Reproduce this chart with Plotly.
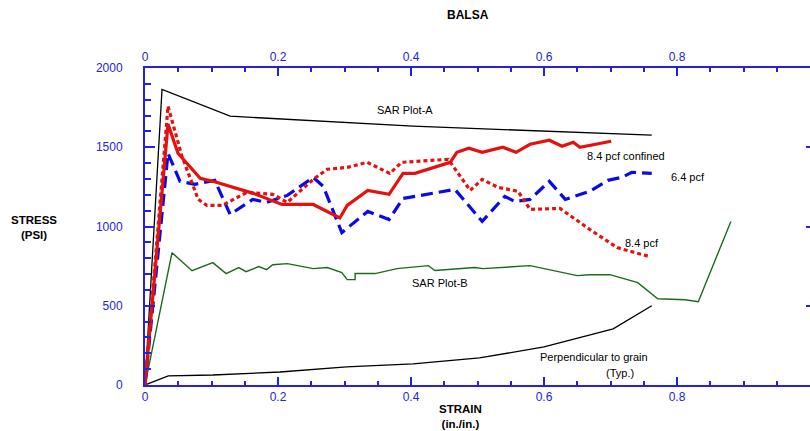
import plotly.graph_objects as go

# ---- data (strain in./in., stress psi) ----
sar_a_x = [0, 0.0256, 0.128, 0.403, 0.762]
sar_a_y = [0, 1865, 1696, 1633, 1576]

perp_x = [0, 0.035, 0.102, 0.203, 0.303, 0.403, 0.503, 0.600, 0.704, 0.762]
perp_y = [0, 57, 63, 82, 114, 133, 171, 240, 354, 500]

sar_b_x = [0, 0.0406, 0.0707, 0.102, 0.122, 0.141, 0.152, 0.171, 0.183, 0.192, 0.214,
           0.253, 0.274, 0.296, 0.304, 0.316, 0.316, 0.346, 0.379, 0.426, 0.436, 0.496,
           0.508, 0.579, 0.650, 0.669, 0.699, 0.741, 0.771, 0.812, 0.832, 0.881]
sar_b_y = [0, 835, 721, 772, 703, 741, 715, 747, 728, 759, 766,
           734, 741, 709, 665, 665, 703, 703, 734, 753, 722, 741,
           734, 753, 690, 696, 696, 646, 544, 538, 525, 1032]

conf_x = [0, 0.0346, 0.0496, 0.083, 0.102, 0.163, 0.206, 0.253, 0.293, 0.304, 0.335,
          0.367, 0.388, 0.406, 0.459, 0.469, 0.487, 0.507, 0.538, 0.558, 0.579, 0.608,
          0.627, 0.644, 0.654, 0.701]
conf_y = [0, 1646, 1462, 1304, 1285, 1209, 1139, 1139, 1054, 1133, 1228,
          1203, 1335, 1335, 1405, 1468, 1494, 1468, 1500, 1468, 1519, 1544,
          1506, 1532, 1500, 1538]

p84_x = [0, 0.0346, 0.0556, 0.080, 0.093, 0.116, 0.153, 0.192, 0.214, 0.253, 0.274,
         0.304, 0.334, 0.368, 0.386, 0.456, 0.489, 0.507, 0.531, 0.549, 0.561, 0.579,
         0.624, 0.669, 0.710, 0.726, 0.759]
p84_y = [0, 1759, 1443, 1171, 1133, 1133, 1215, 1203, 1152, 1297, 1361,
         1373, 1405, 1335, 1405, 1424, 1228, 1297, 1247, 1234, 1222, 1108,
         1114, 981, 867, 848, 810]

p64_x = [0, 0.0346, 0.0526, 0.075, 0.105, 0.128, 0.162, 0.183, 0.214, 0.253, 0.268,
         0.296, 0.335, 0.367, 0.388, 0.466, 0.507, 0.541, 0.556, 0.579, 0.608, 0.632,
         0.669, 0.696, 0.717, 0.732, 0.762]
p64_y = [0, 1462, 1285, 1266, 1291, 1076, 1171, 1152, 1196, 1310, 1253,
         962, 1095, 1044, 1177, 1234, 1032, 1190, 1158, 1171, 1285, 1171,
         1222, 1291, 1310, 1342, 1335]

x_ticks = [0, 0.2, 0.4, 0.6, 0.8]
x_tick_labels = ["0", "0.2", "0.4", "0.6", "0.8"]
y_ticks = [0, 500, 1000, 1500, 2000]
y_tick_labels = ["0", "500", "1000", "1500", "2000"]

AX = "#2323dd"
RED = "#e3120f"
GREEN = "#1c6b1c"
BLUE = "#0a0ae6"
FONT = "Liberation Sans, Arial, sans-serif"

fig = go.Figure()
fig.add_trace(go.Scatter(x=sar_a_x, y=sar_a_y, mode="lines", line=dict(color="black", width=1.3)))
fig.add_trace(go.Scatter(x=perp_x, y=perp_y, mode="lines", line=dict(color="black", width=1.3)))
fig.add_trace(go.Scatter(x=sar_b_x, y=sar_b_y, mode="lines", line=dict(color=GREEN, width=1.4)))
fig.add_trace(go.Scatter(x=p64_x, y=p64_y, mode="lines", line=dict(color=BLUE, width=3.2, dash="12px,6px")))
fig.add_trace(go.Scatter(x=p84_x, y=p84_y, mode="lines", line=dict(color=RED, width=3.2, dash="4px,3px")))
fig.add_trace(go.Scatter(x=conf_x, y=conf_y, mode="lines", line=dict(color=RED, width=3.2)))
# invisible traces for top and right axes
fig.add_trace(go.Scatter(x=[0, 1], y=[0, 0], xaxis="x2", mode="lines", line=dict(width=0), opacity=0, hoverinfo="skip"))
fig.add_trace(go.Scatter(x=[0, 1], y=[0, 0], yaxis="y2", mode="lines", line=dict(width=0), opacity=0, hoverinfo="skip"))

axis_common = dict(showgrid=False, zeroline=False, showline=True, linecolor=AX, linewidth=2,
                   ticks="inside", tickcolor=AX, tickwidth=2,
                   tickfont=dict(family=FONT, size=12, color=AX))

fig.update_layout(
    width=810, height=431,
    margin=dict(l=145, r=0, t=68, b=46),
    paper_bgcolor="white", plot_bgcolor="white",
    showlegend=False, hovermode=False,
    xaxis=dict(range=[0, 1.0], tickmode="array", tickvals=x_ticks, ticktext=x_tick_labels,
               ticklen=8,
               minor=dict(tickmode="linear", tick0=0, dtick=0.05, ticks="inside", ticklen=4,
                          tickcolor=AX, tickwidth=2),
               **axis_common),
    xaxis2=dict(range=[0, 1.0], overlaying="x", side="top", anchor="y", matches="x",
                tickmode="array", tickvals=x_ticks, ticktext=x_tick_labels, ticklen=8,
                minor=dict(tickmode="linear", tick0=0, dtick=0.05, ticks="inside", ticklen=4,
                           tickcolor=AX, tickwidth=2),
                **axis_common),
    yaxis=dict(range=[0, 2000], tickmode="array", tickvals=y_ticks, ticktext=y_tick_labels,
               ticklen=10, ticklabelstandoff=18,
               minor=dict(tickmode="linear", tick0=0, dtick=100, ticks="inside", ticklen=6,
                          tickcolor=AX, tickwidth=2),
               **axis_common),
    yaxis2=dict(range=[0, 2000], overlaying="y", side="right", anchor="x", matches="y",
                showgrid=False, zeroline=False, showline=False, showticklabels=False,
                tickmode="array", tickvals=[500, 1000, 1500], ticks="inside", ticklen=4,
                tickcolor=AX, tickwidth=2),
)

def note(text, x, y, xanchor="center", size=11):
    fig.add_annotation(text=text, x=x, y=y, xref="x", yref="y", showarrow=False,
                       xanchor=xanchor, yanchor="middle",
                       font=dict(family=FONT, size=size, color="black"))

note("SAR Plot-A", 0.391, 1734)
note("8.4 pcf confined", 0.662, 1443, "left")
note("6.4 pcf", 0.788, 1310, "left")
note("8.4 pcf", 0.719, 899, "left")
note("SAR Plot-B", 0.444, 646)
note("Perpendicular to grain", 0.675, 177)
note("(Typ.)", 0.714, 76)

def pnote(text, x, y, size=11.5):
    fig.add_annotation(text=text, x=x, y=y, xref="paper", yref="paper", showarrow=False,
                       xanchor="center", yanchor="middle",
                       font=dict(family=FONT, size=size, color="black"))

pnote("<b>BALSA</b>", 0.486, 1.167, 12)
pnote("<b>STRESS</b><br><b>(PSI)</b>", -0.167, 0.498)
pnote("<b>STRAIN</b><br><b>(in./in.)</b>", 0.474, -0.098)

fig.write_html("out.html", config={"displayModeBar": False},
               post_script="document.body.style.margin='0';document.body.style.overflow='hidden';")
